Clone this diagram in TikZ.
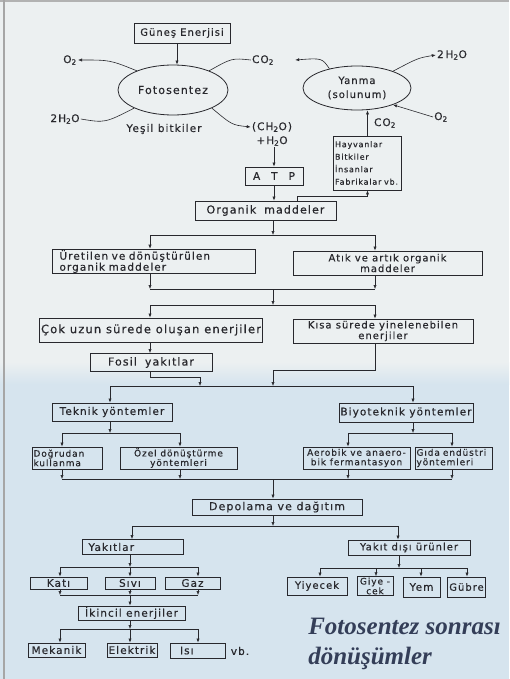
\documentclass[tikz,border=0pt]{standalone}
\usepackage{fontspec}
\newfontfamily\kutufont{DejaVu Sans}[LetterSpace=10, FakeBold=0.4]
\newfontfamily\baslikfont{Liberation Serif}
\usetikzlibrary{arrows.meta,shapes.geometric}

\definecolor{ustzemin}{RGB}{236,240,241}
\definecolor{altzemin}{RGB}{214,228,238}
\definecolor{cizgi}{RGB}{40,40,45}
\definecolor{baslikrenk}{RGB}{52,62,88}

\tikzset{
  kutu/.style={draw=cizgi, line width=0.8pt, inner xsep=1.5pt, inner ysep=1pt,
    font=\kutufont\fontsize{10.5}{10}\selectfont},
  iki/.style={font=\kutufont\fontsize{9}{9.5}\selectfont, align=center},
  sola/.style={align=left},
  elips/.style={draw=cizgi, ellipse, line width=0.8pt, inner sep=0pt},
  etiket/.style={font=\kutufont\fontsize{10.5}{12}\selectfont, inner sep=1pt},
  ok/.style={-{Latex[length=4pt,width=3.2pt]}},
}

\begin{document}
\begin{tikzpicture}[x=1pt, y=-1pt, color=cizgi, line width=0.6pt]
    \useasboundingbox (0,0) rectangle (509,679);
    \fill[ustzemin] (0,0) rectangle (509,362);
    \shade[top color=ustzemin, bottom color=altzemin] (0,362) rectangle (509,384);
    \fill[altzemin] (0,384) rectangle (509,679);
    \draw[gray!60, line width=1.5pt] (0,1) -- (509,1);
    \draw[gray!70, line width=1.2pt] (4,0) -- (4,679);

    % fotosentez ve yanma
    \node (guenes) at (182,33) [kutu, minimum width=96, minimum height=20,
      font=\kutufont\fontsize{10}{10}\selectfont] {Güneş Enerjisi};
    \node (foto) at (173,90) [elips, minimum width=110, minimum height=50,
      font=\kutufont\fontsize{11}{12}\selectfont] {Fotosentez};
    \node (yanma) at (357,88) [elips, minimum width=108, minimum height=44, align=center,
      font=\kutufont\fontsize{10}{14}\selectfont] {Yanma\\(solunum)};

    \node (o2sol) at (70,60) [etiket] {O\textsubscript{2}};
    \node (h2osol) at (65,119) [etiket] {2H\textsubscript{2}O};
    \node (yesil) at (164,129) [etiket] {Yeşil bitkiler};
    \node (co2ust) at (263,60) [etiket] {CO\textsubscript{2}};
    \node (ch2o) at (272,127) [etiket] {(CH\textsubscript{2}O)};
    \node (h2oalt) at (272,141) [etiket] {+H\textsubscript{2}O};
    \node (h2osag) at (452,55) [etiket] {2\,H\textsubscript{2}O};
    \node (o2sag) at (441,117) [etiket] {O\textsubscript{2}};
    \node (co2alt) at (385,123) [etiket] {CO\textsubscript{2}};

    \node (hayvan) at (367.5,163) [kutu, sola, text width=65, minimum height=54,
      font=\kutufont\fontsize{8}{12.5}\selectfont] {Hayvanlar\\Bitkiler\\İnsanlar\\Fabrikalar vb.};
    \node (atp) at (274,176) [kutu, minimum width=58, minimum height=18] {A\hspace{11pt}T\hspace{11pt}P};
    \node (organik) at (265.5,210.5) [kutu, minimum width=141, minimum height=19,
      font=\kutufont\fontsize{11}{10}\selectfont] {Organik\hspace{8pt}maddeler};

    % organik maddeler sonrasi
    \node (uretilen) at (153.5,261.5) [kutu, sola, text width=188, inner xsep=7.5, minimum height=23,
      font=\kutufont\fontsize{10.5}{9.5}\selectfont] {Üretilen ve dönüştürülen\\organik maddeler};
    \node (atik) at (387.5,263) [kutu, iki, minimum width=189, minimum height=24,
      font=\kutufont\fontsize{10}{9.5}\selectfont] {Atık ve artık organik\\maddeler};
    \node (cok) at (151,330) [kutu, minimum width=202, minimum height=24,
      font=\kutufont\fontsize{11.5}{10}\selectfont] {Çok uzun sürede oluşan enerjiler};
    \node (kisa) at (383,331) [kutu, iki, minimum width=180, minimum height=24,
      font=\kutufont\fontsize{10}{9.5}\selectfont] {Kısa sürede yinelenebilen\\enerjiler};
    \node (fosil) at (151,362.5) [kutu, minimum width=122, minimum height=18,
      font=\kutufont\fontsize{11}{10}\selectfont] {Fosil\hspace{8pt}yakıtlar};
    \node (teknik) at (112,412) [kutu, minimum width=120, minimum height=18] {Teknik yöntemler};
    \node (biyo) at (406,412.5) [kutu, minimum width=132, minimum height=19] {Biyoteknik yöntemler};
    \node (dogrudan) at (67,458) [kutu, iki, sola, text width=67, minimum height=22] {Doğrudan\\kullanma};
    \node (ozel) at (178.5,458) [kutu, iki, minimum width=117, minimum height=22] {Özel dönüştürme\\yöntemleri};
    \node (aerobik) at (356.5,458) [kutu, iki, minimum width=107, minimum height=22] {Aerobik ve anaero-\\bik fermantasyon};
    \node (gida) at (453.5,458) [kutu, iki, sola, text width=74, minimum height=22] {Gıda endüstri\\yöntemleri};
    \node (depolama) at (277,507) [kutu, minimum width=170, minimum height=16,
      font=\kutufont\fontsize{11}{10}\selectfont] {Depolama ve dağıtım};

    % yakitlar
    \node (yakit) at (132.5,547) [kutu, sola, text width=88, inner xsep=6.5, minimum height=15] {Yakıtlar};
    \node (kati) at (58.5,583) [kutu, minimum width=57, minimum height=12] {Katı};
    \node (sivi) at (130,583) [kutu, minimum width=50, minimum height=12] {Sıvı};
    \node (gaz) at (192.5,583) [kutu, minimum width=55, minimum height=12] {Gaz};
    \node (ikincil) at (131.5,613) [kutu, minimum width=107, minimum height=14] {İkincil enerjiler};
    \node (mekanik) at (56.5,650) [kutu, minimum width=57, minimum height=14] {Mekanik};
    \node (elektrik) at (132,650) [kutu, minimum width=50, minimum height=14] {Elektrik};
    \node (isi) at (197.5,650.5) [kutu, sola, text width=35, inner xsep=10, minimum height=15] {Isı};
    \node (vb) at (240,651) [etiket] {vb.};

    % yakit disi urunler
    \node (yakitdisi) at (409,547.5) [kutu, minimum width=122, minimum height=15,
      font=\kutufont\fontsize{10}{10}\selectfont] {Yakıt dışı ürünler};
    \node (yiyecek) at (317,586) [kutu, minimum width=60, minimum height=18,
      font=\kutufont\fontsize{10}{10}\selectfont] {Yiyecek};
    \node (giyecek) at (375,586) [kutu, iki, minimum width=36, minimum height=18,
      font=\kutufont\fontsize{9}{8}\selectfont] {Giye -\\cek};
    \node (yem) at (421.5,587) [kutu, minimum width=37, minimum height=20] {Yem};
    \node (gubre) at (466.5,587) [kutu, minimum width=37, minimum height=20,
      font=\kutufont\fontsize{10}{10}\selectfont] {Gübre};

    \node (baslik) at (308,618) [anchor=north west, align=left, inner sep=0pt, text=baslikrenk,
      font=\baslikfont\bfseries\itshape\fontsize{25}{30}\selectfont] {Fotosentez sonrası\\dönüşümler};

    % kavsak noktalari
    \coordinate (hv) at (297,196);
    \coordinate (a0) at (273,235);
    \coordinate (a1) at (150,235);
    \coordinate (a2) at (375,235);
    \coordinate (b0) at (273,289);
    \coordinate (b1) at (150,289);
    \coordinate (b2) at (375,289);
    \coordinate (c0) at (273,305);
    \coordinate (c1) at (150,305);
    \coordinate (c2) at (375,305);
    \coordinate (k1) at (375,370);
    \coordinate (f1) at (150,377);
    \coordinate (d1) at (110,386);
    \coordinate (d2) at (413,386);
    \coordinate (d3) at (200,386);
    \coordinate (d4) at (273,386);
    \coordinate (e0) at (110,433);
    \coordinate (e1) at (62,433);
    \coordinate (e2) at (180,433);
    \coordinate (e3) at (413,433);
    \coordinate (e4) at (348,433);
    \coordinate (e5) at (452,433);
    \coordinate (g0) at (273,479);
    \coordinate (g1) at (62,479);
    \coordinate (g2) at (180,479);
    \coordinate (g3) at (348,479);
    \coordinate (g4) at (452,479);
    \coordinate (h0) at (273,526);
    \coordinate (h1) at (132,526);
    \coordinate (h2) at (398,526);
    \coordinate (i0) at (130,567);
    \coordinate (i1) at (60,567);
    \coordinate (i2) at (198,567);
    \coordinate (j0) at (130,595);
    \coordinate (j1) at (60,595);
    \coordinate (j2) at (198,595);
    \coordinate (l0) at (130,629);
    \coordinate (l1) at (60,629);
    \coordinate (l2) at (198,629);
    \coordinate (m0) at (399,568);
    \coordinate (m1) at (320,568);
    \coordinate (m2) at (376,568);
    \coordinate (m3) at (421,568);
    \coordinate (m4) at (467,568);

     \draw[ok] ([xshift=-5]guenes.south) -- ([xshift=-5]guenes.south |- foto.north);
     \draw[ok] (foto.152) .. controls (110,60) .. (o2sol.east);
     \draw (h2osol.east) .. controls (105,123) .. (foto.205);
     \draw (co2ust.west) .. controls (232,58) .. (foto.28);
     \draw[ok] (foto.335) .. controls (232,125) .. (ch2o.west);
     \draw[ok] (yanma.145) .. controls (322,58) .. ([xshift=20]co2ust.east);
     \draw[ok] (yanma.25) .. controls (418,58) .. (h2osag.west);
     \draw[ok] (o2sag.west) -- (yanma.-25);
     \draw[ok] (hayvan.north) -- (hayvan.north |- yanma.south);

     \draw[ok] (atp.north |- h2oalt.south) -- (atp.north);
     \draw[ok] (atp.south) -- (atp.south |- organik.north);
     \draw[ok] (organik.north -| hv) -- (hv) -| (hayvan.south);

     \draw[ok] (organik.south -| a0) -- (a0);
     \draw (a1) -- (a2);
     \draw[ok] (a1) -- (a1 |- uretilen.north);
     \draw[ok] (a2) -- (a2 |- atik.north);

     \draw[ok] (uretilen.south -| b1) -- (b1);
     \draw[ok] (atik.south -| b2) -- (b2);
     \draw (b1) -- (b2);
     \draw[ok] (b0) -- (c0);
     \draw (c1) -- (c2);
     \draw[ok] (c1) -- (c1 |- cok.north);
     \draw[ok] (c2) -- (c2 |- kisa.north);

     \draw[ok] (cok.south -| c1) -- (c1 |- fosil.north);
     \draw[ok] (fosil.south -| f1) -- (f1) -| (d3);
     \draw[ok] (kisa.south -| k1) -- (k1) -| (d4);
     \draw (d1) -- (d2);
     \draw[ok] (d1) -- (d1 |- teknik.north);
     \draw[ok] (d2) -- (d2 |- biyo.north);

     \draw[ok] (teknik.south -| e0) -- (e0);
     \draw (e1) -- (e2);
     \draw[ok] (e1) -- (e1 |- dogrudan.north);
     \draw[ok] (e2) -- (e2 |- ozel.north);
     \draw[ok] (biyo.south -| e3) -- (e3);
     \draw (e4) -- (e5);
     \draw[ok] (e4) -- (e4 |- aerobik.north);
     \draw[ok] (e5) -- (e5 |- gida.north);

     \draw[ok] (dogrudan.south -| g1) -- (g1);
     \draw[ok] (ozel.south -| g2) -- (g2);
     \draw[ok] (aerobik.south -| g3) -- (g3);
     \draw[ok] (gida.south -| g4) -- (g4);
     \draw (g1) -- (g4);
     \draw[ok] (g0) -- (g0 |- depolama.north);

     \draw[ok] (depolama.south -| h0) -- (h0);
     \draw (h1) -- (h2);
     \draw[ok] (h1) -- (h1 |- yakit.north);
     \draw[ok] (h2) -- (h2 |- yakitdisi.north);

     \draw[ok] (yakit.south -| i0) -- (i0);
     \draw (i1) -- (i2);
     \draw[ok] (i1) -- (i1 |- kati.north);
     \draw[ok] (i0) -- (i0 |- sivi.north);
     \draw[ok] (i2) -- (i2 |- gaz.north);
     \draw[ok] (kati.south -| j1) -- (j1);
     \draw[ok] (sivi.south -| j0) -- (j0);
     \draw[ok] (gaz.south -| j2) -- (j2);
     \draw (j1) -- (j2);
     \draw[ok] (j0) -- (j0 |- ikincil.north);

     \draw[ok] (ikincil.south -| l0) -- (l0);
     \draw (l1) -- (l2);
     \draw[ok] (l1) -- (l1 |- mekanik.north);
     \draw[ok] (l0) -- (l0 |- elektrik.north);
     \draw[ok] (l2) -- (l2 |- isi.north);

     \draw[ok] (yakitdisi.south -| m0) -- (m0);
     \draw (m1) -- (m4);
     \draw[ok] (m1) -- (m1 |- yiyecek.north);
     \draw[ok] (m2) -- (m2 |- giyecek.north);
     \draw[ok] (m3) -- (m3 |- yem.north);
     \draw[ok] (m4) -- (m4 |- gubre.north);

  \end{tikzpicture}
\end{document}
